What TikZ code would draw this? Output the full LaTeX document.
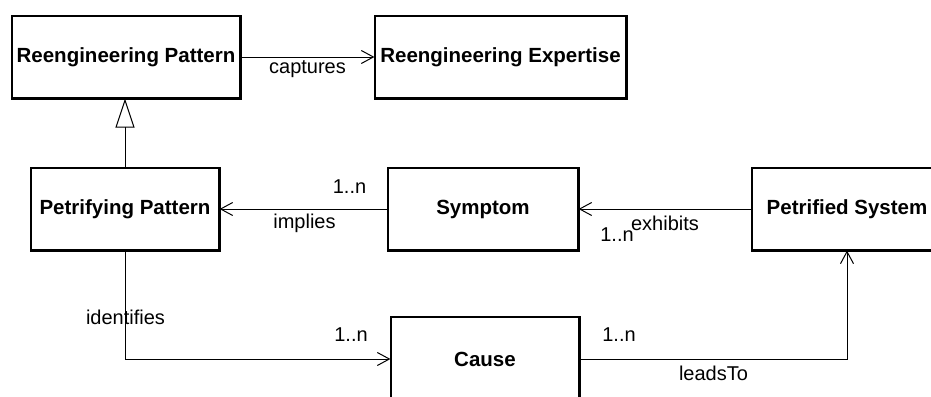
\documentclass[tikz,border=0pt]{standalone}
\usepackage{fontspec}
\setmainfont{Liberation Sans}
\usetikzlibrary{arrows.meta,calc}
\begin{document}
\begin{tikzpicture}[x=0.5pt,y=-0.5pt,
  cls/.style={draw=black,line width=0.6pt,inner sep=0pt,font=\fontsize{10.25}{12}\selectfont\bfseries},
  conn/.style={draw=black,line width=0.5pt},
  opena/.style={-{Straight Barb[length=6pt,width=6.5pt,line width=0.5pt]}},
  gen/.style={-{Triangle[open,length=14.5pt,width=9.5pt,line width=0.5pt]}},
  lbl/.style={font=\fontsize{10}{12}\selectfont,inner sep=0pt}]
\useasboundingbox (0,0) rectangle (931,396);
\node[cls,minimum width=114pt,minimum height=41pt] (RP) at (126,57) {Reengineering Pattern};
\node[cls,minimum width=125.5pt,minimum height=41pt] (RE) at (500.5,57) {Reengineering Expertise};
\node[cls,minimum width=94pt,minimum height=41pt] (PP) at (125,209) {Petrifying Pattern};
\node[cls,minimum width=95pt,minimum height=41pt] (SY) at (483,209) {Symptom};
\node[cls,minimum width=95pt,minimum height=41pt] (PS) at (847,209) {Petrified System};
\node[cls,minimum width=94pt,minimum height=42pt] (CA) at (485,359) {Cause};
% heavier bottom and right edges
\foreach \n in {RP,RE,PP,SY,PS,CA}{
  \draw[line width=1pt] (\n.south west) -- (\n.south east) -- (\n.north east);
}
% connectors
\draw[conn,opena] (RP.east) -- (RE.west);
\node[lbl] (lcap) at (307.5,69) {captures};
\draw[conn,gen] (PP.north) -- (PP.north |- RP.south);
\draw[conn,opena] (SY.west) -- (PP.east);
\node[lbl] (m1) at (349.5,187) {1..n};
\node[lbl] (limp) at (304.5,223) {implies};
\draw[conn,opena] (PS.west) -- (SY.east);
\node[lbl] (m2) at (617,235) {1..n};
\node[lbl] (lexh) at (665,223) {exhibits};
\coordinate (c1) at (PP.south |- CA.west);
\draw[conn,opena] (PP.south) -- (c1) -- (CA.west);
\node[lbl] (lide) at (125.5,317) {identifies};
\node[lbl] (m3) at (351,335) {1..n};
\coordinate (c2) at (PS.south |- CA.east);
\draw[conn,opena] (CA.east) -- (c2) -- (PS.south);
\node[lbl] (m4) at (619,335) {1..n};
\node[lbl] (llead) at (713.5,373) {leadsTo};
\end{tikzpicture}
\end{document}
